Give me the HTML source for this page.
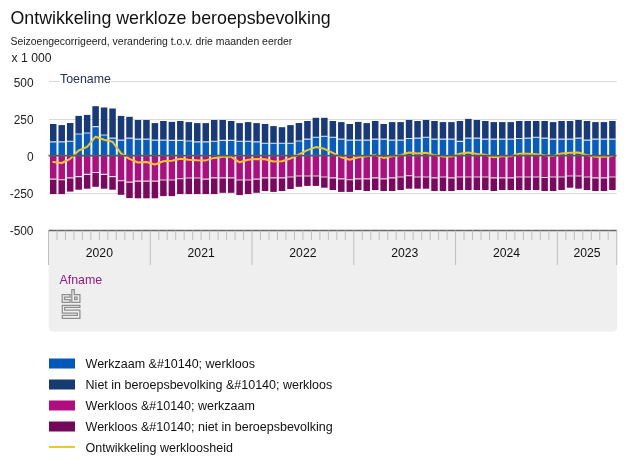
<!DOCTYPE html>
<html><head><meta charset="utf-8"><style>
html,body{margin:0;padding:0;background:#fff;}
body{filter:grayscale(0);width:627px;height:470px;overflow:hidden;position:relative;font-family:"Liberation Sans",Arial,sans-serif;color:#1a1a1a;}
.t{position:absolute;white-space:nowrap;}
svg{position:absolute;left:0;top:0;}
</style></head><body>
<div class="t" id="title" style="left:10.5px;top:7px;font-size:17.8px;line-height:22px;color:#111;">Ontwikkeling werkloze beroepsbevolking</div>
<div class="t" id="sub" style="left:10.5px;top:35px;font-size:10.45px;line-height:13px;color:#222;">Seizoengecorrigeerd, verandering t.o.v. drie maanden eerder</div>
<div class="t" id="unit" style="left:11.5px;top:51px;font-size:12.2px;line-height:14px;color:#222;">x 1 000</div>
<svg width="627" height="470" viewBox="0 0 627 470">
<path d="M48.6 230 H617.2 V326.5 Q617.2 331.8 611.9 331.8 H53.9 Q48.6 331.8 48.6 326.5 Z" fill="#efefef"/>
<g stroke="#d9d9d9" stroke-width="1">
<path d="M49 81.5H616.7"/><path d="M49 119.5H616.7"/><path d="M49 193.5H616.7"/>
</g>
<g font-family="Liberation Sans, Arial, sans-serif" font-size="11.9" fill="#222" text-anchor="end">
<text x="33.5" y="86.5">500</text><text x="33.5" y="123.5">250</text><text x="33.5" y="160.5">0</text><text x="33.5" y="197.5">-250</text><text x="33.5" y="234.5">-500</text>
</g>
<rect x="60" y="73" width="51" height="12" fill="#fff"/>
<text x="60" y="83.2" font-family="Liberation Sans, Arial, sans-serif" font-size="12.4" fill="#1f3262">Toename</text>
<g>
<rect x="50" y="124" width="6.5" height="17.9" fill="#193a7a"/>
<rect x="50" y="141.9" width="6.5" height="13.6" fill="#075cc0"/>
<rect x="50" y="155.5" width="6.5" height="23.6" fill="#af0e80"/>
<rect x="50" y="179.1" width="6.5" height="15" fill="#7c075f"/>
<rect x="58.47" y="125.1" width="6.5" height="16.8" fill="#193a7a"/>
<rect x="58.47" y="141.9" width="6.5" height="13.6" fill="#075cc0"/>
<rect x="58.47" y="155.5" width="6.5" height="24.3" fill="#af0e80"/>
<rect x="58.47" y="179.8" width="6.5" height="14.3" fill="#7c075f"/>
<rect x="66.94" y="123" width="6.5" height="18.3" fill="#193a7a"/>
<rect x="66.94" y="141.3" width="6.5" height="14.2" fill="#075cc0"/>
<rect x="66.94" y="155.5" width="6.5" height="22.4" fill="#af0e80"/>
<rect x="66.94" y="177.9" width="6.5" height="13.7" fill="#7c075f"/>
<rect x="75.42" y="115.9" width="6.5" height="18.1" fill="#193a7a"/>
<rect x="75.42" y="134" width="6.5" height="21.5" fill="#075cc0"/>
<rect x="75.42" y="155.5" width="6.5" height="21.1" fill="#af0e80"/>
<rect x="75.42" y="176.6" width="6.5" height="13.1" fill="#7c075f"/>
<rect x="83.89" y="114.9" width="6.5" height="18.1" fill="#193a7a"/>
<rect x="83.89" y="133" width="6.5" height="22.5" fill="#075cc0"/>
<rect x="83.89" y="155.5" width="6.5" height="18.9" fill="#af0e80"/>
<rect x="83.89" y="174.4" width="6.5" height="14.3" fill="#7c075f"/>
<rect x="92.36" y="106.2" width="6.5" height="20.4" fill="#193a7a"/>
<rect x="92.36" y="126.6" width="6.5" height="28.9" fill="#075cc0"/>
<rect x="92.36" y="155.5" width="6.5" height="17" fill="#af0e80"/>
<rect x="92.36" y="172.5" width="6.5" height="14.3" fill="#7c075f"/>
<rect x="100.83" y="107.5" width="6.5" height="27.5" fill="#193a7a"/>
<rect x="100.83" y="135" width="6.5" height="20.5" fill="#075cc0"/>
<rect x="100.83" y="155.5" width="6.5" height="18.9" fill="#af0e80"/>
<rect x="100.83" y="174.4" width="6.5" height="14.3" fill="#7c075f"/>
<rect x="109.3" y="108.5" width="6.5" height="29.6" fill="#193a7a"/>
<rect x="109.3" y="138.1" width="6.5" height="17.4" fill="#075cc0"/>
<rect x="109.3" y="155.5" width="6.5" height="21.1" fill="#af0e80"/>
<rect x="109.3" y="176.6" width="6.5" height="13.1" fill="#7c075f"/>
<rect x="117.78" y="115.9" width="6.5" height="24.2" fill="#193a7a"/>
<rect x="117.78" y="140.1" width="6.5" height="15.4" fill="#075cc0"/>
<rect x="117.78" y="155.5" width="6.5" height="25.3" fill="#af0e80"/>
<rect x="117.78" y="180.8" width="6.5" height="14" fill="#7c075f"/>
<rect x="126.25" y="116.8" width="6.5" height="21.3" fill="#193a7a"/>
<rect x="126.25" y="138.1" width="6.5" height="17.4" fill="#075cc0"/>
<rect x="126.25" y="155.5" width="6.5" height="26.6" fill="#af0e80"/>
<rect x="126.25" y="182.1" width="6.5" height="16" fill="#7c075f"/>
<rect x="134.72" y="120" width="6.5" height="19.1" fill="#193a7a"/>
<rect x="134.72" y="139.1" width="6.5" height="16.4" fill="#075cc0"/>
<rect x="134.72" y="155.5" width="6.5" height="25.6" fill="#af0e80"/>
<rect x="134.72" y="181.1" width="6.5" height="17.2" fill="#7c075f"/>
<rect x="143.19" y="120" width="6.5" height="19.1" fill="#193a7a"/>
<rect x="143.19" y="139.1" width="6.5" height="16.4" fill="#075cc0"/>
<rect x="143.19" y="155.5" width="6.5" height="25.6" fill="#af0e80"/>
<rect x="143.19" y="181.1" width="6.5" height="17.2" fill="#7c075f"/>
<rect x="151.66" y="123.1" width="6.5" height="17" fill="#193a7a"/>
<rect x="151.66" y="140.1" width="6.5" height="15.4" fill="#075cc0"/>
<rect x="151.66" y="155.5" width="6.5" height="25.6" fill="#af0e80"/>
<rect x="151.66" y="181.1" width="6.5" height="17.2" fill="#7c075f"/>
<rect x="160.14" y="121" width="6.5" height="19.1" fill="#193a7a"/>
<rect x="160.14" y="140.1" width="6.5" height="15.4" fill="#075cc0"/>
<rect x="160.14" y="155.5" width="6.5" height="24.5" fill="#af0e80"/>
<rect x="160.14" y="180" width="6.5" height="16.1" fill="#7c075f"/>
<rect x="168.61" y="121.9" width="6.5" height="18.5" fill="#193a7a"/>
<rect x="168.61" y="140.4" width="6.5" height="15.1" fill="#075cc0"/>
<rect x="168.61" y="155.5" width="6.5" height="24.5" fill="#af0e80"/>
<rect x="168.61" y="180" width="6.5" height="16.1" fill="#7c075f"/>
<rect x="177.08" y="121" width="6.5" height="19.4" fill="#193a7a"/>
<rect x="177.08" y="140.4" width="6.5" height="15.1" fill="#075cc0"/>
<rect x="177.08" y="155.5" width="6.5" height="23.3" fill="#af0e80"/>
<rect x="177.08" y="178.8" width="6.5" height="15.3" fill="#7c075f"/>
<rect x="185.55" y="122.1" width="6.5" height="18.9" fill="#193a7a"/>
<rect x="185.55" y="141" width="6.5" height="14.5" fill="#075cc0"/>
<rect x="185.55" y="155.5" width="6.5" height="22.5" fill="#af0e80"/>
<rect x="185.55" y="178" width="6.5" height="16.1" fill="#7c075f"/>
<rect x="194.02" y="123.1" width="6.5" height="18.8" fill="#193a7a"/>
<rect x="194.02" y="141.9" width="6.5" height="13.6" fill="#075cc0"/>
<rect x="194.02" y="155.5" width="6.5" height="22.5" fill="#af0e80"/>
<rect x="194.02" y="178" width="6.5" height="16.1" fill="#7c075f"/>
<rect x="202.5" y="123.1" width="6.5" height="18.8" fill="#193a7a"/>
<rect x="202.5" y="141.9" width="6.5" height="13.6" fill="#075cc0"/>
<rect x="202.5" y="155.5" width="6.5" height="23.6" fill="#af0e80"/>
<rect x="202.5" y="179.1" width="6.5" height="15" fill="#7c075f"/>
<rect x="210.97" y="120" width="6.5" height="21.3" fill="#193a7a"/>
<rect x="210.97" y="141.3" width="6.5" height="14.2" fill="#075cc0"/>
<rect x="210.97" y="155.5" width="6.5" height="22.4" fill="#af0e80"/>
<rect x="210.97" y="177.9" width="6.5" height="16.2" fill="#7c075f"/>
<rect x="219.44" y="120" width="6.5" height="20.4" fill="#193a7a"/>
<rect x="219.44" y="140.4" width="6.5" height="15.1" fill="#075cc0"/>
<rect x="219.44" y="155.5" width="6.5" height="22.4" fill="#af0e80"/>
<rect x="219.44" y="177.9" width="6.5" height="14.9" fill="#7c075f"/>
<rect x="227.91" y="121" width="6.5" height="19.4" fill="#193a7a"/>
<rect x="227.91" y="140.4" width="6.5" height="15.1" fill="#075cc0"/>
<rect x="227.91" y="155.5" width="6.5" height="22.4" fill="#af0e80"/>
<rect x="227.91" y="177.9" width="6.5" height="14.9" fill="#7c075f"/>
<rect x="236.38" y="123.1" width="6.5" height="18.2" fill="#193a7a"/>
<rect x="236.38" y="141.3" width="6.5" height="14.2" fill="#075cc0"/>
<rect x="236.38" y="155.5" width="6.5" height="24.5" fill="#af0e80"/>
<rect x="236.38" y="180" width="6.5" height="15.1" fill="#7c075f"/>
<rect x="244.86" y="122.1" width="6.5" height="19.2" fill="#193a7a"/>
<rect x="244.86" y="141.3" width="6.5" height="14.2" fill="#075cc0"/>
<rect x="244.86" y="155.5" width="6.5" height="24.5" fill="#af0e80"/>
<rect x="244.86" y="180" width="6.5" height="14.1" fill="#7c075f"/>
<rect x="253.33" y="123.1" width="6.5" height="18.8" fill="#193a7a"/>
<rect x="253.33" y="141.9" width="6.5" height="13.6" fill="#075cc0"/>
<rect x="253.33" y="155.5" width="6.5" height="23.6" fill="#af0e80"/>
<rect x="253.33" y="179.1" width="6.5" height="13.7" fill="#7c075f"/>
<rect x="261.8" y="124" width="6.5" height="19.2" fill="#193a7a"/>
<rect x="261.8" y="143.2" width="6.5" height="12.3" fill="#075cc0"/>
<rect x="261.8" y="155.5" width="6.5" height="22.4" fill="#af0e80"/>
<rect x="261.8" y="177.9" width="6.5" height="13.1" fill="#7c075f"/>
<rect x="270.27" y="126.1" width="6.5" height="17.1" fill="#193a7a"/>
<rect x="270.27" y="143.2" width="6.5" height="12.3" fill="#075cc0"/>
<rect x="270.27" y="155.5" width="6.5" height="22.4" fill="#af0e80"/>
<rect x="270.27" y="177.9" width="6.5" height="14" fill="#7c075f"/>
<rect x="278.74" y="127.2" width="6.5" height="16" fill="#193a7a"/>
<rect x="278.74" y="143.2" width="6.5" height="12.3" fill="#075cc0"/>
<rect x="278.74" y="155.5" width="6.5" height="22.4" fill="#af0e80"/>
<rect x="278.74" y="177.9" width="6.5" height="13.1" fill="#7c075f"/>
<rect x="287.22" y="125.1" width="6.5" height="18.1" fill="#193a7a"/>
<rect x="287.22" y="143.2" width="6.5" height="12.3" fill="#075cc0"/>
<rect x="287.22" y="155.5" width="6.5" height="21.5" fill="#af0e80"/>
<rect x="287.22" y="177" width="6.5" height="12" fill="#7c075f"/>
<rect x="295.69" y="123" width="6.5" height="18" fill="#193a7a"/>
<rect x="295.69" y="141" width="6.5" height="14.5" fill="#075cc0"/>
<rect x="295.69" y="155.5" width="6.5" height="20.5" fill="#af0e80"/>
<rect x="295.69" y="176" width="6.5" height="10.8" fill="#7c075f"/>
<rect x="304.16" y="121" width="6.5" height="18.1" fill="#193a7a"/>
<rect x="304.16" y="139.1" width="6.5" height="16.4" fill="#075cc0"/>
<rect x="304.16" y="155.5" width="6.5" height="20.5" fill="#af0e80"/>
<rect x="304.16" y="176" width="6.5" height="9.9" fill="#7c075f"/>
<rect x="312.63" y="117.8" width="6.5" height="19.4" fill="#193a7a"/>
<rect x="312.63" y="137.2" width="6.5" height="18.3" fill="#075cc0"/>
<rect x="312.63" y="155.5" width="6.5" height="20.5" fill="#af0e80"/>
<rect x="312.63" y="176" width="6.5" height="9.9" fill="#7c075f"/>
<rect x="321.1" y="117.8" width="6.5" height="18.5" fill="#193a7a"/>
<rect x="321.1" y="136.3" width="6.5" height="19.2" fill="#075cc0"/>
<rect x="321.1" y="155.5" width="6.5" height="21.5" fill="#af0e80"/>
<rect x="321.1" y="177" width="6.5" height="10.7" fill="#7c075f"/>
<rect x="329.58" y="121" width="6.5" height="16.2" fill="#193a7a"/>
<rect x="329.58" y="137.2" width="6.5" height="18.3" fill="#075cc0"/>
<rect x="329.58" y="155.5" width="6.5" height="22.4" fill="#af0e80"/>
<rect x="329.58" y="177.9" width="6.5" height="12.1" fill="#7c075f"/>
<rect x="338.05" y="122.1" width="6.5" height="17" fill="#193a7a"/>
<rect x="338.05" y="139.1" width="6.5" height="16.4" fill="#075cc0"/>
<rect x="338.05" y="155.5" width="6.5" height="23.4" fill="#af0e80"/>
<rect x="338.05" y="178.9" width="6.5" height="13" fill="#7c075f"/>
<rect x="346.52" y="124" width="6.5" height="16.1" fill="#193a7a"/>
<rect x="346.52" y="140.1" width="6.5" height="15.4" fill="#075cc0"/>
<rect x="346.52" y="155.5" width="6.5" height="24.3" fill="#af0e80"/>
<rect x="346.52" y="179.8" width="6.5" height="12.1" fill="#7c075f"/>
<rect x="354.99" y="121.9" width="6.5" height="18.2" fill="#193a7a"/>
<rect x="354.99" y="140.1" width="6.5" height="15.4" fill="#075cc0"/>
<rect x="354.99" y="155.5" width="6.5" height="23.4" fill="#af0e80"/>
<rect x="354.99" y="178.9" width="6.5" height="11.1" fill="#7c075f"/>
<rect x="363.46" y="123.1" width="6.5" height="17" fill="#193a7a"/>
<rect x="363.46" y="140.1" width="6.5" height="15.4" fill="#075cc0"/>
<rect x="363.46" y="155.5" width="6.5" height="23.4" fill="#af0e80"/>
<rect x="363.46" y="178.9" width="6.5" height="12.1" fill="#7c075f"/>
<rect x="371.94" y="121" width="6.5" height="18.1" fill="#193a7a"/>
<rect x="371.94" y="139.1" width="6.5" height="16.4" fill="#075cc0"/>
<rect x="371.94" y="155.5" width="6.5" height="22.4" fill="#af0e80"/>
<rect x="371.94" y="177.9" width="6.5" height="12.1" fill="#7c075f"/>
<rect x="380.41" y="124" width="6.5" height="15.1" fill="#193a7a"/>
<rect x="380.41" y="139.1" width="6.5" height="16.4" fill="#075cc0"/>
<rect x="380.41" y="155.5" width="6.5" height="23.4" fill="#af0e80"/>
<rect x="380.41" y="178.9" width="6.5" height="12.1" fill="#7c075f"/>
<rect x="388.88" y="122.1" width="6.5" height="18" fill="#193a7a"/>
<rect x="388.88" y="140.1" width="6.5" height="15.4" fill="#075cc0"/>
<rect x="388.88" y="155.5" width="6.5" height="22.4" fill="#af0e80"/>
<rect x="388.88" y="177.9" width="6.5" height="13.1" fill="#7c075f"/>
<rect x="397.35" y="122.1" width="6.5" height="18" fill="#193a7a"/>
<rect x="397.35" y="140.1" width="6.5" height="15.4" fill="#075cc0"/>
<rect x="397.35" y="155.5" width="6.5" height="21.5" fill="#af0e80"/>
<rect x="397.35" y="177" width="6.5" height="13" fill="#7c075f"/>
<rect x="405.82" y="120" width="6.5" height="18.5" fill="#193a7a"/>
<rect x="405.82" y="138.5" width="6.5" height="17" fill="#075cc0"/>
<rect x="405.82" y="155.5" width="6.5" height="20.3" fill="#af0e80"/>
<rect x="405.82" y="175.8" width="6.5" height="12.9" fill="#7c075f"/>
<rect x="414.3" y="121" width="6.5" height="17.1" fill="#193a7a"/>
<rect x="414.3" y="138.1" width="6.5" height="17.4" fill="#075cc0"/>
<rect x="414.3" y="155.5" width="6.5" height="21.5" fill="#af0e80"/>
<rect x="414.3" y="177" width="6.5" height="11.7" fill="#7c075f"/>
<rect x="422.77" y="120" width="6.5" height="17.2" fill="#193a7a"/>
<rect x="422.77" y="137.2" width="6.5" height="18.3" fill="#075cc0"/>
<rect x="422.77" y="155.5" width="6.5" height="21.5" fill="#af0e80"/>
<rect x="422.77" y="177" width="6.5" height="11.7" fill="#7c075f"/>
<rect x="431.24" y="121" width="6.5" height="18.1" fill="#193a7a"/>
<rect x="431.24" y="139.1" width="6.5" height="16.4" fill="#075cc0"/>
<rect x="431.24" y="155.5" width="6.5" height="22.4" fill="#af0e80"/>
<rect x="431.24" y="177.9" width="6.5" height="13.1" fill="#7c075f"/>
<rect x="439.71" y="122.1" width="6.5" height="17" fill="#193a7a"/>
<rect x="439.71" y="139.1" width="6.5" height="16.4" fill="#075cc0"/>
<rect x="439.71" y="155.5" width="6.5" height="21.5" fill="#af0e80"/>
<rect x="439.71" y="177" width="6.5" height="14" fill="#7c075f"/>
<rect x="448.18" y="122.1" width="6.5" height="17" fill="#193a7a"/>
<rect x="448.18" y="139.1" width="6.5" height="16.4" fill="#075cc0"/>
<rect x="448.18" y="155.5" width="6.5" height="22.4" fill="#af0e80"/>
<rect x="448.18" y="177.9" width="6.5" height="13.1" fill="#7c075f"/>
<rect x="456.66" y="121" width="6.5" height="20.4" fill="#193a7a"/>
<rect x="456.66" y="141.4" width="6.5" height="14.1" fill="#075cc0"/>
<rect x="456.66" y="155.5" width="6.5" height="21.5" fill="#af0e80"/>
<rect x="456.66" y="177" width="6.5" height="13" fill="#7c075f"/>
<rect x="465.13" y="118.9" width="6.5" height="19.2" fill="#193a7a"/>
<rect x="465.13" y="138.1" width="6.5" height="17.4" fill="#075cc0"/>
<rect x="465.13" y="155.5" width="6.5" height="21.5" fill="#af0e80"/>
<rect x="465.13" y="177" width="6.5" height="13" fill="#7c075f"/>
<rect x="473.6" y="120" width="6.5" height="18.1" fill="#193a7a"/>
<rect x="473.6" y="138.1" width="6.5" height="17.4" fill="#075cc0"/>
<rect x="473.6" y="155.5" width="6.5" height="21.5" fill="#af0e80"/>
<rect x="473.6" y="177" width="6.5" height="13" fill="#7c075f"/>
<rect x="482.07" y="121" width="6.5" height="18.1" fill="#193a7a"/>
<rect x="482.07" y="139.1" width="6.5" height="16.4" fill="#075cc0"/>
<rect x="482.07" y="155.5" width="6.5" height="21.5" fill="#af0e80"/>
<rect x="482.07" y="177" width="6.5" height="13" fill="#7c075f"/>
<rect x="490.54" y="122.1" width="6.5" height="17" fill="#193a7a"/>
<rect x="490.54" y="139.1" width="6.5" height="16.4" fill="#075cc0"/>
<rect x="490.54" y="155.5" width="6.5" height="22.4" fill="#af0e80"/>
<rect x="490.54" y="177.9" width="6.5" height="13.1" fill="#7c075f"/>
<rect x="499.02" y="122.1" width="6.5" height="17" fill="#193a7a"/>
<rect x="499.02" y="139.1" width="6.5" height="16.4" fill="#075cc0"/>
<rect x="499.02" y="155.5" width="6.5" height="22.4" fill="#af0e80"/>
<rect x="499.02" y="177.9" width="6.5" height="12.1" fill="#7c075f"/>
<rect x="507.49" y="122.1" width="6.5" height="17" fill="#193a7a"/>
<rect x="507.49" y="139.1" width="6.5" height="16.4" fill="#075cc0"/>
<rect x="507.49" y="155.5" width="6.5" height="22.4" fill="#af0e80"/>
<rect x="507.49" y="177.9" width="6.5" height="12.1" fill="#7c075f"/>
<rect x="515.96" y="121" width="6.5" height="17.5" fill="#193a7a"/>
<rect x="515.96" y="138.5" width="6.5" height="17" fill="#075cc0"/>
<rect x="515.96" y="155.5" width="6.5" height="21.5" fill="#af0e80"/>
<rect x="515.96" y="177" width="6.5" height="13" fill="#7c075f"/>
<rect x="524.43" y="121" width="6.5" height="17.1" fill="#193a7a"/>
<rect x="524.43" y="138.1" width="6.5" height="17.4" fill="#075cc0"/>
<rect x="524.43" y="155.5" width="6.5" height="21.5" fill="#af0e80"/>
<rect x="524.43" y="177" width="6.5" height="13" fill="#7c075f"/>
<rect x="532.9" y="121" width="6.5" height="16.2" fill="#193a7a"/>
<rect x="532.9" y="137.2" width="6.5" height="18.3" fill="#075cc0"/>
<rect x="532.9" y="155.5" width="6.5" height="21.5" fill="#af0e80"/>
<rect x="532.9" y="177" width="6.5" height="13" fill="#7c075f"/>
<rect x="541.38" y="121" width="6.5" height="17.1" fill="#193a7a"/>
<rect x="541.38" y="138.1" width="6.5" height="17.4" fill="#075cc0"/>
<rect x="541.38" y="155.5" width="6.5" height="22" fill="#af0e80"/>
<rect x="541.38" y="177.5" width="6.5" height="13.5" fill="#7c075f"/>
<rect x="549.85" y="122.1" width="6.5" height="17" fill="#193a7a"/>
<rect x="549.85" y="139.1" width="6.5" height="16.4" fill="#075cc0"/>
<rect x="549.85" y="155.5" width="6.5" height="21.5" fill="#af0e80"/>
<rect x="549.85" y="177" width="6.5" height="14" fill="#7c075f"/>
<rect x="558.32" y="121" width="6.5" height="18.1" fill="#193a7a"/>
<rect x="558.32" y="139.1" width="6.5" height="16.4" fill="#075cc0"/>
<rect x="558.32" y="155.5" width="6.5" height="21.5" fill="#af0e80"/>
<rect x="558.32" y="177" width="6.5" height="13" fill="#7c075f"/>
<rect x="566.79" y="121" width="6.5" height="18.1" fill="#193a7a"/>
<rect x="566.79" y="139.1" width="6.5" height="16.4" fill="#075cc0"/>
<rect x="566.79" y="155.5" width="6.5" height="20.5" fill="#af0e80"/>
<rect x="566.79" y="176" width="6.5" height="11.7" fill="#7c075f"/>
<rect x="575.26" y="120" width="6.5" height="18.1" fill="#193a7a"/>
<rect x="575.26" y="138.1" width="6.5" height="17.4" fill="#075cc0"/>
<rect x="575.26" y="155.5" width="6.5" height="20.5" fill="#af0e80"/>
<rect x="575.26" y="176" width="6.5" height="12.7" fill="#7c075f"/>
<rect x="583.74" y="121" width="6.5" height="19.1" fill="#193a7a"/>
<rect x="583.74" y="140.1" width="6.5" height="15.4" fill="#075cc0"/>
<rect x="583.74" y="155.5" width="6.5" height="21.5" fill="#af0e80"/>
<rect x="583.74" y="177" width="6.5" height="13" fill="#7c075f"/>
<rect x="592.21" y="122.1" width="6.5" height="17" fill="#193a7a"/>
<rect x="592.21" y="139.1" width="6.5" height="16.4" fill="#075cc0"/>
<rect x="592.21" y="155.5" width="6.5" height="22.4" fill="#af0e80"/>
<rect x="592.21" y="177.9" width="6.5" height="13.1" fill="#7c075f"/>
<rect x="600.68" y="122.1" width="6.5" height="17" fill="#193a7a"/>
<rect x="600.68" y="139.1" width="6.5" height="16.4" fill="#075cc0"/>
<rect x="600.68" y="155.5" width="6.5" height="22.4" fill="#af0e80"/>
<rect x="600.68" y="177.9" width="6.5" height="13.1" fill="#7c075f"/>
<rect x="609.15" y="121" width="6.5" height="18.1" fill="#193a7a"/>
<rect x="609.15" y="139.1" width="6.5" height="16.4" fill="#075cc0"/>
<rect x="609.15" y="155.5" width="6.5" height="21.5" fill="#af0e80"/>
<rect x="609.15" y="177" width="6.5" height="13" fill="#7c075f"/>
</g>
<path d="M50 141.9h6.5 M50 179.1h6.5 M58.47 141.9h6.5 M58.47 179.8h6.5 M66.94 141.3h6.5 M66.94 177.9h6.5 M75.42 134h6.5 M75.42 176.6h6.5 M83.89 133h6.5 M83.89 174.4h6.5 M92.36 126.6h6.5 M92.36 172.5h6.5 M100.83 135h6.5 M100.83 174.4h6.5 M109.3 138.1h6.5 M109.3 176.6h6.5 M117.78 140.1h6.5 M117.78 180.8h6.5 M126.25 138.1h6.5 M126.25 182.1h6.5 M134.72 139.1h6.5 M134.72 181.1h6.5 M143.19 139.1h6.5 M143.19 181.1h6.5 M151.66 140.1h6.5 M151.66 181.1h6.5 M160.14 140.1h6.5 M160.14 180h6.5 M168.61 140.4h6.5 M168.61 180h6.5 M177.08 140.4h6.5 M177.08 178.8h6.5 M185.55 141h6.5 M185.55 178h6.5 M194.02 141.9h6.5 M194.02 178h6.5 M202.5 141.9h6.5 M202.5 179.1h6.5 M210.97 141.3h6.5 M210.97 177.9h6.5 M219.44 140.4h6.5 M219.44 177.9h6.5 M227.91 140.4h6.5 M227.91 177.9h6.5 M236.38 141.3h6.5 M236.38 180h6.5 M244.86 141.3h6.5 M244.86 180h6.5 M253.33 141.9h6.5 M253.33 179.1h6.5 M261.8 143.2h6.5 M261.8 177.9h6.5 M270.27 143.2h6.5 M270.27 177.9h6.5 M278.74 143.2h6.5 M278.74 177.9h6.5 M287.22 143.2h6.5 M287.22 177h6.5 M295.69 141h6.5 M295.69 176h6.5 M304.16 139.1h6.5 M304.16 176h6.5 M312.63 137.2h6.5 M312.63 176h6.5 M321.1 136.3h6.5 M321.1 177h6.5 M329.58 137.2h6.5 M329.58 177.9h6.5 M338.05 139.1h6.5 M338.05 178.9h6.5 M346.52 140.1h6.5 M346.52 179.8h6.5 M354.99 140.1h6.5 M354.99 178.9h6.5 M363.46 140.1h6.5 M363.46 178.9h6.5 M371.94 139.1h6.5 M371.94 177.9h6.5 M380.41 139.1h6.5 M380.41 178.9h6.5 M388.88 140.1h6.5 M388.88 177.9h6.5 M397.35 140.1h6.5 M397.35 177h6.5 M405.82 138.5h6.5 M405.82 175.8h6.5 M414.3 138.1h6.5 M414.3 177h6.5 M422.77 137.2h6.5 M422.77 177h6.5 M431.24 139.1h6.5 M431.24 177.9h6.5 M439.71 139.1h6.5 M439.71 177h6.5 M448.18 139.1h6.5 M448.18 177.9h6.5 M456.66 141.4h6.5 M456.66 177h6.5 M465.13 138.1h6.5 M465.13 177h6.5 M473.6 138.1h6.5 M473.6 177h6.5 M482.07 139.1h6.5 M482.07 177h6.5 M490.54 139.1h6.5 M490.54 177.9h6.5 M499.02 139.1h6.5 M499.02 177.9h6.5 M507.49 139.1h6.5 M507.49 177.9h6.5 M515.96 138.5h6.5 M515.96 177h6.5 M524.43 138.1h6.5 M524.43 177h6.5 M532.9 137.2h6.5 M532.9 177h6.5 M541.38 138.1h6.5 M541.38 177.5h6.5 M549.85 139.1h6.5 M549.85 177h6.5 M558.32 139.1h6.5 M558.32 177h6.5 M566.79 139.1h6.5 M566.79 176h6.5 M575.26 138.1h6.5 M575.26 176h6.5 M583.74 140.1h6.5 M583.74 177h6.5 M592.21 139.1h6.5 M592.21 177.9h6.5 M600.68 139.1h6.5 M600.68 177.9h6.5 M609.15 139.1h6.5 M609.15 177h6.5" stroke="#ffffff" stroke-opacity="0.8" stroke-width="1.1"/>
<path d="M53.25 162 L61.72 163 L70.19 158.8 L78.67 150.5 L87.14 146.9 L95.61 136.7 L104.08 139.7 L112.55 141.8 L121.03 153.4 L129.5 158.9 L137.97 162.5 L146.44 162 L154.91 164.5 L163.39 161.2 L171.86 160.8 L180.33 158.7 L188.8 159.8 L197.27 160.3 L205.75 160.4 L214.22 157.9 L222.69 156.8 L231.16 156.8 L239.63 162.3 L248.11 159.8 L256.58 158.9 L265.05 159.3 L273.52 161.5 L281.99 161.2 L290.47 158.5 L298.94 154.5 L307.41 150.1 L315.88 147.1 L324.35 148.8 L332.83 152.9 L341.3 157.2 L349.77 159.8 L358.24 157.2 L366.71 156.3 L375.19 155.1 L383.66 157.9 L392.13 156.3 L400.6 155.2 L409.07 152.5 L417.55 153.4 L426.02 152.8 L434.49 155.1 L442.96 156.6 L451.43 156.6 L459.91 153.8 L468.38 152.5 L476.85 154 L485.32 154.7 L493.79 157.2 L502.27 156.3 L510.74 156.3 L519.21 153.8 L527.68 153.8 L536.15 154.3 L544.63 155.3 L553.1 155.9 L561.57 153.4 L570.04 152.8 L578.51 152.5 L586.99 155.1 L595.46 156.8 L603.93 156.8 L612.4 155.9" fill="none" stroke="#f0c62a" stroke-width="2" stroke-linejoin="round" stroke-linecap="round"/>
<path d="M48.5 155.6H616.5" stroke="#5a5a5a" stroke-width="1.6"/>
<path d="M48.5 230.5H616.7" stroke="#666" stroke-width="1.4"/>
<path d="M48.5 230.5V265" stroke="#bfbfbf" stroke-width="1"/>
<path d="M56.98 230.5V240" stroke="#bfbfbf" stroke-width="1"/>
<path d="M65.46 230.5V240" stroke="#bfbfbf" stroke-width="1"/>
<path d="M73.94 230.5V240" stroke="#bfbfbf" stroke-width="1"/>
<path d="M82.42 230.5V240" stroke="#bfbfbf" stroke-width="1"/>
<path d="M90.9 230.5V240" stroke="#bfbfbf" stroke-width="1"/>
<path d="M99.38 230.5V240" stroke="#bfbfbf" stroke-width="1"/>
<path d="M107.86 230.5V240" stroke="#bfbfbf" stroke-width="1"/>
<path d="M116.34 230.5V240" stroke="#bfbfbf" stroke-width="1"/>
<path d="M124.83 230.5V240" stroke="#bfbfbf" stroke-width="1"/>
<path d="M133.31 230.5V240" stroke="#bfbfbf" stroke-width="1"/>
<path d="M141.79 230.5V240" stroke="#bfbfbf" stroke-width="1"/>
<path d="M150.27 230.5V265" stroke="#bfbfbf" stroke-width="1"/>
<path d="M158.75 230.5V240" stroke="#bfbfbf" stroke-width="1"/>
<path d="M167.23 230.5V240" stroke="#bfbfbf" stroke-width="1"/>
<path d="M175.71 230.5V240" stroke="#bfbfbf" stroke-width="1"/>
<path d="M184.19 230.5V240" stroke="#bfbfbf" stroke-width="1"/>
<path d="M192.67 230.5V240" stroke="#bfbfbf" stroke-width="1"/>
<path d="M201.15 230.5V240" stroke="#bfbfbf" stroke-width="1"/>
<path d="M209.63 230.5V240" stroke="#bfbfbf" stroke-width="1"/>
<path d="M218.11 230.5V240" stroke="#bfbfbf" stroke-width="1"/>
<path d="M226.59 230.5V240" stroke="#bfbfbf" stroke-width="1"/>
<path d="M235.07 230.5V240" stroke="#bfbfbf" stroke-width="1"/>
<path d="M243.55 230.5V240" stroke="#bfbfbf" stroke-width="1"/>
<path d="M252.03 230.5V265" stroke="#bfbfbf" stroke-width="1"/>
<path d="M260.51 230.5V240" stroke="#bfbfbf" stroke-width="1"/>
<path d="M269 230.5V240" stroke="#bfbfbf" stroke-width="1"/>
<path d="M277.48 230.5V240" stroke="#bfbfbf" stroke-width="1"/>
<path d="M285.96 230.5V240" stroke="#bfbfbf" stroke-width="1"/>
<path d="M294.44 230.5V240" stroke="#bfbfbf" stroke-width="1"/>
<path d="M302.92 230.5V240" stroke="#bfbfbf" stroke-width="1"/>
<path d="M311.4 230.5V240" stroke="#bfbfbf" stroke-width="1"/>
<path d="M319.88 230.5V240" stroke="#bfbfbf" stroke-width="1"/>
<path d="M328.36 230.5V240" stroke="#bfbfbf" stroke-width="1"/>
<path d="M336.84 230.5V240" stroke="#bfbfbf" stroke-width="1"/>
<path d="M345.32 230.5V240" stroke="#bfbfbf" stroke-width="1"/>
<path d="M353.8 230.5V265" stroke="#bfbfbf" stroke-width="1"/>
<path d="M362.28 230.5V240" stroke="#bfbfbf" stroke-width="1"/>
<path d="M370.76 230.5V240" stroke="#bfbfbf" stroke-width="1"/>
<path d="M379.24 230.5V240" stroke="#bfbfbf" stroke-width="1"/>
<path d="M387.72 230.5V240" stroke="#bfbfbf" stroke-width="1"/>
<path d="M396.2 230.5V240" stroke="#bfbfbf" stroke-width="1"/>
<path d="M404.69 230.5V240" stroke="#bfbfbf" stroke-width="1"/>
<path d="M413.17 230.5V240" stroke="#bfbfbf" stroke-width="1"/>
<path d="M421.65 230.5V240" stroke="#bfbfbf" stroke-width="1"/>
<path d="M430.13 230.5V240" stroke="#bfbfbf" stroke-width="1"/>
<path d="M438.61 230.5V240" stroke="#bfbfbf" stroke-width="1"/>
<path d="M447.09 230.5V240" stroke="#bfbfbf" stroke-width="1"/>
<path d="M455.57 230.5V265" stroke="#bfbfbf" stroke-width="1"/>
<path d="M464.05 230.5V240" stroke="#bfbfbf" stroke-width="1"/>
<path d="M472.53 230.5V240" stroke="#bfbfbf" stroke-width="1"/>
<path d="M481.01 230.5V240" stroke="#bfbfbf" stroke-width="1"/>
<path d="M489.49 230.5V240" stroke="#bfbfbf" stroke-width="1"/>
<path d="M497.97 230.5V240" stroke="#bfbfbf" stroke-width="1"/>
<path d="M506.45 230.5V240" stroke="#bfbfbf" stroke-width="1"/>
<path d="M514.93 230.5V240" stroke="#bfbfbf" stroke-width="1"/>
<path d="M523.41 230.5V240" stroke="#bfbfbf" stroke-width="1"/>
<path d="M531.89 230.5V240" stroke="#bfbfbf" stroke-width="1"/>
<path d="M540.37 230.5V240" stroke="#bfbfbf" stroke-width="1"/>
<path d="M548.86 230.5V240" stroke="#bfbfbf" stroke-width="1"/>
<path d="M557.34 230.5V265" stroke="#bfbfbf" stroke-width="1"/>
<path d="M565.82 230.5V240" stroke="#bfbfbf" stroke-width="1"/>
<path d="M574.3 230.5V240" stroke="#bfbfbf" stroke-width="1"/>
<path d="M582.78 230.5V240" stroke="#bfbfbf" stroke-width="1"/>
<path d="M591.26 230.5V240" stroke="#bfbfbf" stroke-width="1"/>
<path d="M599.74 230.5V240" stroke="#bfbfbf" stroke-width="1"/>
<path d="M608.22 230.5V240" stroke="#bfbfbf" stroke-width="1"/>
<path d="M616.7 230.5V265" stroke="#bfbfbf" stroke-width="1"/>
<g font-family="Liberation Sans, Arial, sans-serif" font-size="12.2" fill="#111">
<text x="99.38" y="256.5" text-anchor="middle">2020</text>
<text x="201.15" y="256.5" text-anchor="middle">2021</text>
<text x="302.92" y="256.5" text-anchor="middle">2022</text>
<text x="404.69" y="256.5" text-anchor="middle">2023</text>
<text x="506.45" y="256.5" text-anchor="middle">2024</text>
<text x="587.02" y="256.5" text-anchor="middle">2025</text>
</g>
<text x="59.5" y="284" font-family="Liberation Sans, Arial, sans-serif" font-size="12.4" fill="#951b83">Afname</text>
<g fill="none" stroke="#8e8e8e" stroke-width="1.25">
<path d="M62.2 294.5H70.1V297.2H64.5V299.6H70.1V302.3H62.2Z"/>
<path d="M71.8 289.7H74.3V294.5H79.9V302.3H71.8Z M74.6 297.2H77V299.6H74.6Z"/>
<path d="M62.3 305.3H79.9V307.4H64.6V310.2H79.9V318.3H62.3V315.4H77.4V313.1H62.3Z"/>
</g>
<g font-family="Liberation Sans, Arial, sans-serif" font-size="12.5" fill="#111">
<rect x="49" y="358.5" width="26" height="10" fill="#0058b8"/>
<rect x="49" y="379.5" width="26" height="10" fill="#163a72"/>
<rect x="49" y="400.5" width="26" height="10" fill="#af0e80"/>
<rect x="49" y="421.5" width="26" height="10" fill="#72085a"/>
<rect x="49" y="446" width="26" height="2" fill="#f0c62a"/>
<text x="85.6" y="367.7">Werkzaam &amp;#10140; werkloos</text>
<text x="85.6" y="388.7">Niet in beroepsbevolking &amp;#10140; werkloos</text>
<text x="85.6" y="409.7">Werkloos &amp;#10140; werkzaam</text>
<text x="85.6" y="430.7">Werkloos &amp;#10140; niet in beroepsbevolking</text>
<text x="85.6" y="451.7">Ontwikkeling werkloosheid</text>
</g>
</svg>
</body></html>
